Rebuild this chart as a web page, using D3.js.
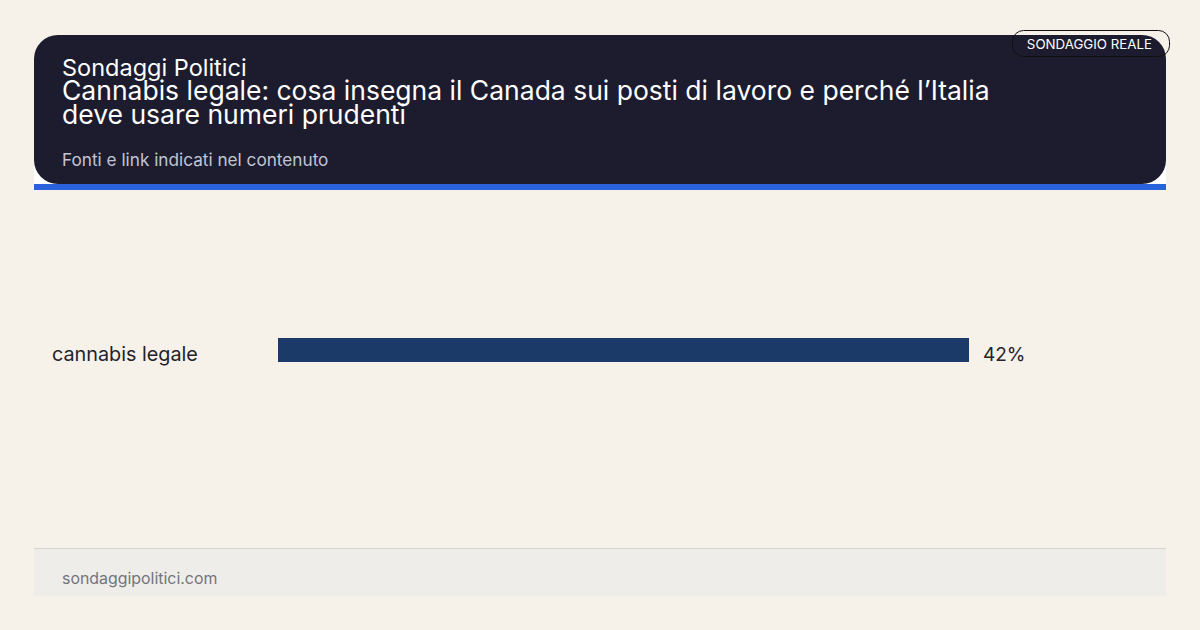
<!DOCTYPE html>
<html>
<head>
<meta charset="utf-8">
<script src="https://cdn.jsdelivr.net/npm/d3@7"></script>
<style>
  html, body { margin: 0; padding: 0; background: #f6f2ea; }
  svg { display: block; font-family: Inter, "Noto Sans", sans-serif; }
</style>
</head>
<body>
<div id="chart"></div>
<script>
const categories = ['cannabis legale'];
const values = [42];
const titleLines = [
  'Cannabis legale: cosa insegna il Canada sui posti di lavoro e perché l’Italia',
  'deve usare numeri prudenti'
];
const brand = 'Sondaggi Politici';
const subtitle = 'Fonti e link indicati nel contenuto';
const badge = 'SONDAGGIO REALE';
const footer = 'sondaggipolitici.com';

const width = 1200;
const height = 630;

const svg = d3.select('#chart').append('svg')
  .attr('width', width)
  .attr('height', height)
  .attr('viewBox', `0 0 ${width} ${height}`);

svg.append('rect')
  .attr('width', width)
  .attr('height', height)
  .attr('fill', '#f6f2ea');

// header
svg.append('rect')
  .attr('x', 34).attr('y', 150)
  .attr('width', 1132).attr('height', 34)
  .attr('fill', '#ffffff');

svg.append('rect')
  .attr('x', 34).attr('y', 35)
  .attr('width', 1132).attr('height', 149)
  .attr('rx', 24)
  .attr('fill', '#1c1c2e');

svg.append('rect')
  .attr('x', 34).attr('y', 184)
  .attr('width', 1132).attr('height', 6)
  .attr('fill', '#2a62dc');

svg.append('text')
  .attr('x', 62).attr('y', 76)
  .attr('fill', '#ffffff')
  .attr('font-size', 23.5)
  .text(brand);

svg.append('g').selectAll('text')
  .data(titleLines)
  .enter().append('text')
  .attr('x', 62)
  .attr('y', (d, i) => 100 + i * 23.5)
  .attr('fill', '#ffffff')
  .attr('font-size', 26.5)
  .text(d => d);

svg.append('text')
  .attr('x', 62).attr('y', 166)
  .attr('fill', '#c2c4d4')
  .attr('font-size', 17.2)
  .text(subtitle);

// badge
svg.append('rect')
  .attr('x', 1012.5).attr('y', 30.5)
  .attr('width', 157).attr('height', 26)
  .attr('rx', 11)
  .attr('fill', 'none')
  .attr('stroke', '#111')
  .attr('stroke-width', 1);

svg.append('text')
  .attr('x', 1152).attr('y', 49)
  .attr('text-anchor', 'end')
  .attr('fill', '#ffffff')
  .attr('font-size', 13.3)
  .text(badge);

// bars
const x = d3.scaleLinear()
  .domain([0, d3.max(values)])
  .range([278, 969]);

const y = d3.scaleBand()
  .domain(categories)
  .range([338, 362]);

const rows = svg.append('g').selectAll('g')
  .data(categories)
  .enter().append('g');

rows.append('rect')
  .attr('x', x(0))
  .attr('y', d => y(d))
  .attr('width', (d, i) => x(values[i]) - x(0))
  .attr('height', y.bandwidth())
  .attr('fill', '#1c3a68');

rows.append('text')
  .attr('x', 52)
  .attr('y', d => y(d) + y.bandwidth() / 2 + 11)
  .attr('fill', '#23232b')
  .attr('font-size', 19.8)
  .text(d => d);

rows.append('text')
  .attr('x', (d, i) => x(values[i]) + 14)
  .attr('y', d => y(d) + y.bandwidth() / 2 + 11)
  .attr('fill', '#23232b')
  .attr('font-size', 19)
  .text((d, i) => `${values[i]}%`);

// footer
svg.append('rect')
  .attr('x', 34).attr('y', 548)
  .attr('width', 1132).attr('height', 48)
  .attr('fill', '#eeedea');

svg.append('line')
  .attr('x1', 34).attr('x2', 1166)
  .attr('y1', 548.5).attr('y2', 548.5)
  .attr('stroke', '#d6d3cc')
  .attr('stroke-width', 1);

svg.append('text')
  .attr('x', 62).attr('y', 584)
  .attr('fill', '#74747a')
  .attr('font-size', 15.9)
  .text(footer);
</script>
</body>
</html>
